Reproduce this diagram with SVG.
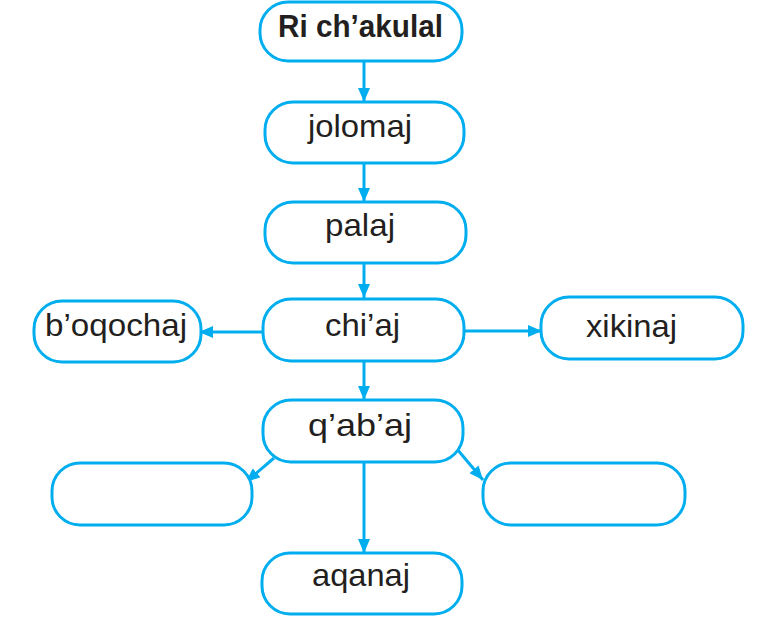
<svg xmlns="http://www.w3.org/2000/svg" width="769" height="630" viewBox="0 0 769 630">
  <defs>
    <marker id="arr" viewBox="0 0 14 12" markerUnits="userSpaceOnUse" markerWidth="14" markerHeight="12" refX="14" refY="6" orient="auto">
      <path d="M0,0 L14,6 L0,12 z" fill="#00aeef"/>
    </marker>
  </defs>
  <style>
    .box { fill: #ffffff; stroke: #00aeef; stroke-width: 3; }
    .lbl { font-family: "Liberation Sans", Arial, sans-serif; font-size: 32px; fill: #231f20; }
    .ttl { font-family: "Liberation Sans", Arial, sans-serif; font-size: 32px; font-weight: bold; fill: #231f20; }
    .con { stroke: #00aeef; stroke-width: 3; fill: none; marker-end: url(#arr); }
  </style>
  <rect width="769" height="630" fill="#ffffff"/>

  <g id="connectors">
    <line class="con" x1="364" y1="61" x2="364" y2="102"/>
    <line class="con" x1="364" y1="163" x2="364" y2="202"/>
    <line class="con" x1="364" y1="263" x2="364" y2="298"/>
    <line class="con" x1="263" y1="332" x2="199" y2="332"/>
    <line class="con" x1="465" y1="331" x2="542" y2="331"/>
    <line class="con" x1="364" y1="361" x2="364" y2="400"/>
    <line class="con" x1="274" y1="458" x2="246" y2="482"/>
    <line class="con" x1="457" y1="449" x2="483" y2="480"/>
    <line class="con" x1="364" y1="463" x2="364" y2="553"/>
  </g>

  <g id="n-ri-chakulal">
    <rect class="box" x="260" y="2" width="202" height="59" rx="28"/>
    <text class="ttl" x="278" y="37" textLength="165" lengthAdjust="spacingAndGlyphs">Ri ch’akulal</text>
  </g>
  <g id="n-jolomaj">
    <rect class="box" x="265" y="102" width="199" height="61" rx="28"/>
    <text class="lbl" x="308" y="137" textLength="104" lengthAdjust="spacingAndGlyphs">jolomaj</text>
  </g>
  <g id="n-palaj">
    <rect class="box" x="265" y="202" width="201" height="61" rx="28"/>
    <text class="lbl" x="325" y="236" textLength="70" lengthAdjust="spacingAndGlyphs">palaj</text>
  </g>
  <g id="n-chiaj">
    <rect class="box" x="263" y="299" width="201" height="62" rx="28"/>
    <text class="lbl" x="325" y="336" textLength="75" lengthAdjust="spacingAndGlyphs">chi’aj</text>
  </g>
  <g id="n-boqochaj">
    <rect class="box" x="34" y="301" width="167" height="61" rx="28"/>
    <text class="lbl" x="45" y="336" textLength="142" lengthAdjust="spacingAndGlyphs">b’oqochaj</text>
  </g>
  <g id="n-xikinaj">
    <rect class="box" x="541" y="297" width="202" height="62" rx="28"/>
    <text class="lbl" x="586" y="337" textLength="91" lengthAdjust="spacingAndGlyphs">xikinaj</text>
  </g>
  <g id="n-qabaj">
    <rect class="box" x="263" y="400" width="200" height="62" rx="28"/>
    <text class="lbl" x="308" y="436" textLength="104" lengthAdjust="spacingAndGlyphs">q’ab’aj</text>
  </g>
  <g id="n-blank-left">
    <rect class="box" x="52" y="463" width="200" height="62" rx="28"/>
  </g>
  <g id="n-blank-right">
    <rect class="box" x="483" y="463" width="202" height="62" rx="28"/>
  </g>
  <g id="n-aqanaj">
    <rect class="box" x="262" y="553" width="200" height="61" rx="28"/>
    <text class="lbl" x="312" y="586" textLength="98" lengthAdjust="spacingAndGlyphs">aqanaj</text>
  </g>
</svg>
